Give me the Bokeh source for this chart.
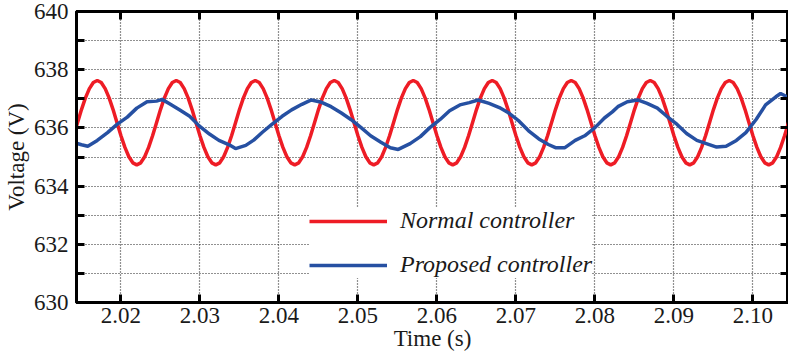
from bokeh.plotting import figure
from bokeh.models import (LinearAxis, FixedTicker, Legend, LegendItem, Range1d,
                          NumeralTickFormatter)
from bokeh.embed import file_html
from bokeh.resources import INLINE

# ---------------- data ----------------
red_t = [
    2.0140, 2.0145, 2.0150, 2.0155, 2.0160, 2.0165,
    2.0170, 2.0175, 2.0180, 2.0185, 2.0190, 2.0195, 2.0200, 2.0205, 2.0210, 2.0215,
    2.0220, 2.0225, 2.0230, 2.0235, 2.0240, 2.0245, 2.0250, 2.0255, 2.0260, 2.0265,
    2.0270, 2.0275, 2.0280, 2.0285, 2.0290, 2.0295, 2.0300, 2.0305, 2.0310, 2.0315,
    2.0320, 2.0325, 2.0330, 2.0335, 2.0340, 2.0345, 2.0350, 2.0355, 2.0360, 2.0365,
    2.0370, 2.0375, 2.0380, 2.0385, 2.0390, 2.0395, 2.0400, 2.0405, 2.0410, 2.0415,
    2.0420, 2.0425, 2.0430, 2.0435, 2.0440, 2.0445, 2.0450, 2.0455, 2.0460, 2.0465,
    2.0470, 2.0475, 2.0480, 2.0485, 2.0490, 2.0495, 2.0500, 2.0505, 2.0510, 2.0515,
    2.0520, 2.0525, 2.0530, 2.0535, 2.0540, 2.0545, 2.0550, 2.0555, 2.0560, 2.0565,
    2.0570, 2.0575, 2.0580, 2.0585, 2.0590, 2.0595, 2.0600, 2.0605, 2.0610, 2.0615,
    2.0620, 2.0625, 2.0630, 2.0635, 2.0640, 2.0645, 2.0650, 2.0655, 2.0660, 2.0665,
    2.0670, 2.0675, 2.0680, 2.0685, 2.0690, 2.0695, 2.0700, 2.0705, 2.0710, 2.0715,
    2.0720, 2.0725, 2.0730, 2.0735, 2.0740, 2.0745, 2.0750, 2.0755, 2.0760, 2.0765,
    2.0770, 2.0775, 2.0780, 2.0785, 2.0790, 2.0795, 2.0800, 2.0805, 2.0810, 2.0815,
    2.0820, 2.0825, 2.0830, 2.0835, 2.0840, 2.0845, 2.0850, 2.0855, 2.0860, 2.0865,
    2.0870, 2.0875, 2.0880, 2.0885, 2.0890, 2.0895, 2.0900, 2.0905, 2.0910, 2.0915,
    2.0920, 2.0925, 2.0930, 2.0935, 2.0940, 2.0945, 2.0950, 2.0955, 2.0960, 2.0965,
    2.0970, 2.0975, 2.0980, 2.0985, 2.0990, 2.0995, 2.1000, 2.1005, 2.1010, 2.1015,
    2.1020, 2.1025, 2.1030, 2.1035, 2.1040, 2.1045, 2.1050,
]
red_v = [
    635.73, 636.18, 636.63, 637.03, 637.35, 637.56,
    637.63, 637.56, 637.35, 637.03, 636.63, 636.18, 635.73, 635.33, 635.01, 634.80,
    634.73, 634.80, 635.01, 635.33, 635.73, 636.18, 636.63, 637.03, 637.35, 637.56,
    637.63, 637.56, 637.35, 637.03, 636.63, 636.18, 635.73, 635.33, 635.01, 634.80,
    634.73, 634.80, 635.01, 635.33, 635.73, 636.18, 636.63, 637.03, 637.35, 637.56,
    637.63, 637.56, 637.35, 637.03, 636.63, 636.18, 635.73, 635.33, 635.01, 634.80,
    634.73, 634.80, 635.01, 635.33, 635.73, 636.18, 636.63, 637.03, 637.35, 637.56,
    637.63, 637.56, 637.35, 637.03, 636.63, 636.18, 635.73, 635.33, 635.01, 634.80,
    634.73, 634.80, 635.01, 635.33, 635.73, 636.18, 636.63, 637.03, 637.35, 637.56,
    637.63, 637.56, 637.35, 637.03, 636.63, 636.18, 635.73, 635.33, 635.01, 634.80,
    634.73, 634.80, 635.01, 635.33, 635.73, 636.18, 636.63, 637.03, 637.35, 637.56,
    637.63, 637.56, 637.35, 637.03, 636.63, 636.18, 635.73, 635.33, 635.01, 634.80,
    634.73, 634.80, 635.01, 635.33, 635.73, 636.18, 636.63, 637.03, 637.35, 637.56,
    637.63, 637.56, 637.35, 637.03, 636.63, 636.18, 635.73, 635.33, 635.01, 634.80,
    634.73, 634.80, 635.01, 635.33, 635.73, 636.18, 636.63, 637.03, 637.35, 637.56,
    637.63, 637.56, 637.35, 637.03, 636.63, 636.18, 635.73, 635.33, 635.01, 634.80,
    634.73, 634.80, 635.01, 635.33, 635.73, 636.18, 636.63, 637.03, 637.35, 637.56,
    637.63, 637.56, 637.35, 637.03, 636.63, 636.18, 635.73, 635.33, 635.01, 634.80,
    634.73, 634.80, 635.01, 635.33, 635.73, 636.18, 636.63,
]

blue_t = [
    2.0140, 2.0150, 2.0158, 2.0170, 2.0183, 2.0195, 2.0208, 2.0220, 2.0233, 2.0245,
    2.0252, 2.0262, 2.0274, 2.0287, 2.0299, 2.0312, 2.0324, 2.0337, 2.0345, 2.0358,
    2.0368, 2.0379, 2.0391, 2.0404, 2.0416, 2.0429, 2.0441, 2.0454, 2.0466, 2.0479,
    2.0491, 2.0504, 2.0516, 2.0529, 2.0541, 2.0551, 2.0566, 2.0579, 2.0591, 2.0604,
    2.0616, 2.0629, 2.0641, 2.0652, 2.0666, 2.0679, 2.0691, 2.0704, 2.0716, 2.0729,
    2.0741, 2.0750, 2.0762, 2.0775, 2.0787, 2.0800, 2.0812, 2.0822, 2.0829, 2.0841,
    2.0854, 2.0866, 2.0879, 2.0891, 2.0904, 2.0916, 2.0929, 2.0941, 2.0954, 2.0966,
    2.0979, 2.0991, 2.1004, 2.1016, 2.1029, 2.1035, 2.1043, 2.1047,
]
blue_v = [
    635.50, 635.42, 635.37, 635.57, 635.84, 636.12, 636.37, 636.68, 636.90, 636.92,
    636.98, 636.82, 636.62, 636.40, 636.07, 635.79, 635.57, 635.42, 635.29, 635.40,
    635.58, 635.85, 636.12, 636.40, 636.62, 636.81, 636.96, 636.88, 636.73, 636.51,
    636.29, 636.01, 635.73, 635.51, 635.32, 635.26, 635.46, 635.70, 636.01, 636.29,
    636.59, 636.79, 636.87, 636.96, 636.84, 636.70, 636.51, 636.23, 635.90, 635.62,
    635.43, 635.32, 635.32, 635.57, 635.73, 636.01, 636.34, 636.55, 636.73, 636.90,
    636.96, 636.84, 636.68, 636.40, 636.12, 635.81, 635.57, 635.46, 635.34, 635.37,
    635.57, 635.84, 636.29, 636.79, 637.07, 637.18, 637.07, 636.90,
]

x_ticks = [2.02, 2.03, 2.04, 2.05, 2.06, 2.07, 2.08, 2.09, 2.10]
y_ticks = [630, 631, 632, 633, 634, 635, 636, 637, 638, 639, 640]
y_labels = {631: "", 633: "", 635: "", 637: "", 639: ""}
series_names = ["Normal controller", "Proposed controller"]

# ---------------- figure ----------------
FONT = "Times New Roman"
TXT = "#1a1a1a"

p = figure(width=788, height=353,
           x_range=Range1d(2.01437, 2.1045), y_range=Range1d(630, 640),
           output_backend="svg", toolbar_location=None,
           min_border_left=10, min_border_right=0, min_border_top=11,
           min_border_bottom=10)
p.background_fill_color = "white"
p.border_fill_color = "white"
p.outline_line_color = "black"
p.outline_line_width = 3

xt = FixedTicker(ticks=x_ticks)
yt = FixedTicker(ticks=y_ticks)

for ax in (p.xaxis[0], p.yaxis[0]):
    ax.axis_line_width = 3
    ax.major_tick_in = 8
    ax.major_tick_out = 0
    ax.major_tick_line_width = 3
    ax.minor_tick_line_color = None
    ax.major_label_text_font = FONT
    ax.major_label_text_font_size = "23px"
    ax.major_label_text_color = TXT
    ax.axis_label_text_font = FONT
    ax.axis_label_text_font_size = "23px"
    ax.axis_label_text_font_style = "normal"
    ax.axis_label_text_color = TXT

p.xaxis[0].ticker = xt
p.xaxis[0].formatter = NumeralTickFormatter(format="0.00")
p.xaxis[0].axis_label = "Time (s)"
p.xaxis[0].major_label_standoff = 5
p.xaxis[0].axis_label_standoff = 0

p.yaxis[0].ticker = yt
p.yaxis[0].major_label_overrides = y_labels
p.yaxis[0].axis_label = "Voltage (V)"
p.yaxis[0].major_label_standoff = 8
p.yaxis[0].axis_label_standoff = 2

# frame ticks on the top and right sides (no labels)
top = LinearAxis(ticker=xt, major_label_text_font_size="0px",
                 major_label_text_color=None,
                 major_label_standoff=0, major_tick_in=8, major_tick_out=0,
                 major_tick_line_width=3, minor_tick_line_color=None,
                 axis_line_width=3)
right = LinearAxis(ticker=yt, major_label_text_font_size="0px",
                   major_label_text_color=None,
                   major_label_standoff=0, major_tick_in=8, major_tick_out=0,
                   major_tick_line_width=3, minor_tick_line_color=None,
                   axis_line_width=3)
p.add_layout(top, "above")
p.add_layout(right, "right")

p.xgrid[0].ticker = xt
p.ygrid[0].ticker = yt
for g in (p.xgrid[0], p.ygrid[0]):
    g.grid_line_color = "#222222"
    g.grid_line_dash = "1 2"
    g.grid_line_width = 1.2

r1 = p.line(red_t, red_v, line_color="#ee1c25", line_width=3.5)
r2 = p.line(blue_t, blue_v, line_color="#2650a2", line_width=3.5)

legend = Legend(items=[LegendItem(label=series_names[0], renderers=[r1]),
                       LegendItem(label=series_names[1], renderers=[r2])],
                location=(233, 24))
legend.label_text_font = FONT
legend.label_text_font_size = "24px"
legend.label_text_font_style = "italic"
legend.label_text_color = TXT
legend.glyph_width = 78
legend.glyph_height = 20
legend.label_height = 20
legend.label_standoff = 13
legend.spacing = 17
legend.padding = 9
legend.margin = 0
legend.border_line_color = None
legend.background_fill_color = "white"
legend.background_fill_alpha = 1.0
p.add_layout(legend)

open("out.html", "w").write(file_html(p, INLINE))
